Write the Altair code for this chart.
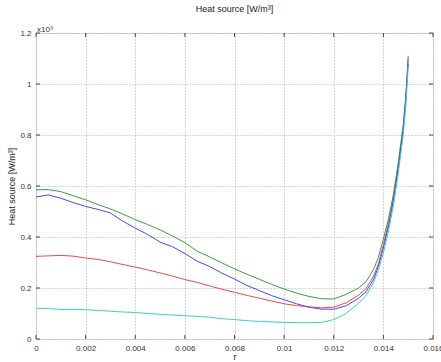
import altair as alt
import pandas as pd

r_vals = [0, 0.0005, 0.001, 0.0015, 0.002, 0.0025, 0.003, 0.0035, 0.004, 0.0045,
          0.005, 0.0055, 0.006, 0.0065, 0.007, 0.0075, 0.008, 0.0085, 0.009, 0.0095,
          0.01, 0.0105, 0.011, 0.0115, 0.012, 0.0125, 0.013, 0.0133, 0.0136, 0.0138,
          0.014, 0.0142, 0.0144, 0.0146, 0.0148, 0.0149, 0.015]

red = [0.324, 0.326, 0.328, 0.325, 0.318, 0.312, 0.303, 0.292, 0.282, 0.271,
       0.259, 0.247, 0.233, 0.222, 0.208, 0.195, 0.183, 0.171, 0.160, 0.149,
       0.138, 0.131, 0.126, 0.122, 0.125, 0.142, 0.172, 0.198, 0.245, 0.295,
       0.370, 0.450, 0.550, 0.680, 0.830, 0.940, 1.100]

green = [0.585, 0.586, 0.578, 0.562, 0.546, 0.527, 0.510, 0.490, 0.468, 0.449,
         0.428, 0.404, 0.378, 0.344, 0.322, 0.298, 0.275, 0.254, 0.234, 0.214,
         0.196, 0.180, 0.167, 0.158, 0.157, 0.175, 0.200, 0.225, 0.272, 0.320,
         0.392, 0.468, 0.565, 0.690, 0.840, 0.950, 1.110]

blue = [0.557, 0.565, 0.552, 0.535, 0.520, 0.508, 0.494, 0.462, 0.435, 0.410,
        0.380, 0.362, 0.335, 0.305, 0.284, 0.258, 0.235, 0.210, 0.190, 0.170,
        0.154, 0.138, 0.125, 0.117, 0.117, 0.130, 0.160, 0.185, 0.233, 0.285,
        0.357, 0.440, 0.540, 0.670, 0.820, 0.930, 1.080]

cyan = [0.121, 0.119, 0.116, 0.116, 0.115, 0.112, 0.109, 0.106, 0.104, 0.100,
        0.097, 0.094, 0.091, 0.089, 0.085, 0.080, 0.076, 0.072, 0.069, 0.067,
        0.065, 0.064, 0.064, 0.065, 0.076, 0.100, 0.140, 0.170, 0.220, 0.270,
        0.337, 0.420, 0.520, 0.650, 0.800, 0.910, 1.070]

series_names = ["s1", "s2", "s3", "s4"]
series_colors = ["#f04848", "#3c9c3c", "#4848f0", "#40cccc"]
x_ticks = [0, 0.002, 0.004, 0.006, 0.008, 0.01, 0.012, 0.014, 0.016]
y_ticks = [0, 0.2, 0.4, 0.6, 0.8, 1.0, 1.2]

rows = []
for name, vals in zip(series_names, [red, green, blue, cyan]):
    for i, (rv, v) in enumerate(zip(r_vals, vals)):
        rows.append({"r": rv, "q": v, "series": name, "order": i})
df = pd.DataFrame(rows)

W, H = 397, 306
FONT = "Liberation Sans"

xscale = alt.Scale(domain=[0, 0.016], nice=False, zero=False)
yscale = alt.Scale(domain=[0, 1.2], nice=False)

lines = alt.Chart(df).mark_line(strokeWidth=1, clip=True).encode(
    x=alt.X("r:Q", scale=xscale,
            axis=alt.Axis(values=x_ticks, title="r", grid=True, gridDash=[1, 2],
                          gridColor="#aaaaaa", domain=False, ticks=False,
                          labelFontSize=8, labelColor="#333333", labelPadding=5,
                          labelFont=FONT, titleFont=FONT, titleFontSize=9,
                          titleFontWeight="normal", titleColor="#222222",
                          titleBaseline="alphabetic", titleY=20, labelFlush=False,
                          format="~g")),
    y=alt.Y("q:Q", scale=yscale,
            axis=alt.Axis(values=y_ticks, title="Heat source [W/m³]", grid=True,
                          gridDash=[1, 2], gridColor="#aaaaaa", domain=False,
                          ticks=False, labelFontSize=8, labelColor="#333333",
                          labelPadding=5, labelFont=FONT, titleFont=FONT,
                          titleFontSize=9, titleFontWeight="normal",
                          titleColor="#222222", titlePadding=3, format="~g")),
    color=alt.Color("series:N", scale=alt.Scale(domain=series_names, range=series_colors),
                    legend=None),
    order="order:Q",
    detail="series:N",
)

tick_df_x = pd.DataFrame({"r": x_ticks})
tick_df_y = pd.DataFrame({"q": y_ticks})

xt_bottom = alt.Chart(tick_df_x).mark_rule(color="#444444", strokeWidth=1).encode(
    x=alt.X("r:Q", scale=xscale), y=alt.value(H), y2=alt.value(H - 4))
xt_top = alt.Chart(tick_df_x).mark_rule(color="#444444", strokeWidth=1).encode(
    x=alt.X("r:Q", scale=xscale), y=alt.value(0), y2=alt.value(4))
yt_left = alt.Chart(tick_df_y).mark_rule(color="#444444", strokeWidth=1).encode(
    y=alt.Y("q:Q", scale=yscale), x=alt.value(0), x2=alt.value(4))
yt_right = alt.Chart(tick_df_y).mark_rule(color="#444444", strokeWidth=1).encode(
    y=alt.Y("q:Q", scale=yscale), x=alt.value(W), x2=alt.value(W - 4))

exp_label = alt.Chart(pd.DataFrame({"t": ["x10⁹"]})).mark_text(
    align="left", baseline="bottom", fontSize=8, font=FONT, color="#333333"
).encode(text="t:N", x=alt.value(1), y=alt.value(1))

chart = alt.layer(lines, xt_bottom, xt_top, yt_left, yt_right, exp_label).properties(
    width=W, height=H,
    title=alt.TitleParams("Heat source [W/m³]", fontSize=9, font=FONT,
                          fontWeight="normal", color="#222222", offset=12),
    autosize=alt.AutoSizeParams(type="none"),
    padding={"left": 36, "top": 33, "right": 8, "bottom": 23},
).configure_view(stroke="#444444", strokeWidth=1).configure(background="white")

chart.save("out.html", embed_options={"renderer": "svg", "actions": False})
